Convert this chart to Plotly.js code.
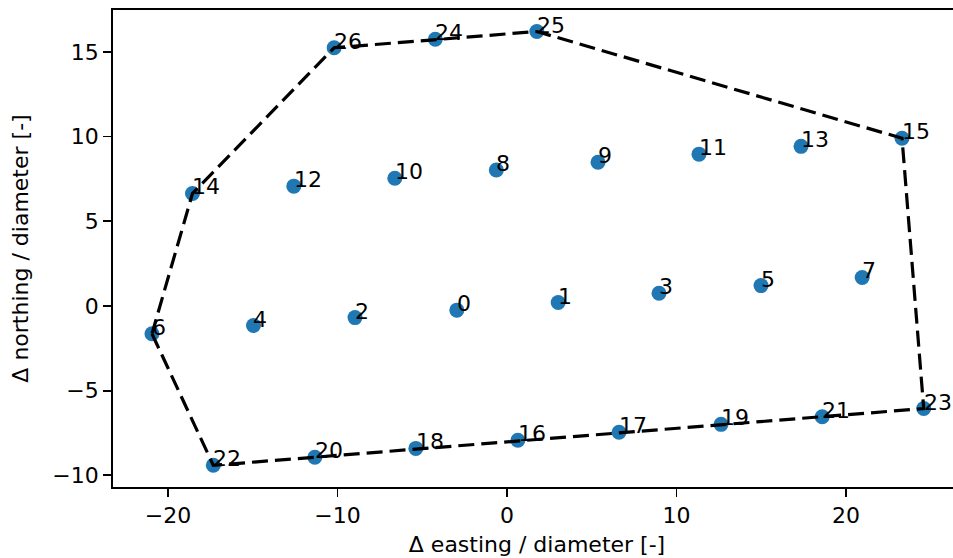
<!DOCTYPE html>
<html>
<head>
<meta charset="utf-8">
<script src="https://cdn.plot.ly/plotly-3.0.1.min.js"></script>
<style>
  html, body { margin: 0; padding: 0; overflow: hidden; background: #fff; }
  #chart { width: 962px; height: 558px; }
</style>
</head>
<body>
<div id="chart"></div>
<script>
// Turbine positions relative to the layout centre, in rotor diameters.
const turbineIds = [0, 1, 2, 3, 4, 5, 6, 7, 8, 9, 10, 11, 12, 13, 14, 15, 16, 17, 18, 19, 20, 21, 22, 23, 24, 25, 26];
const easting = [-2.96, 3.02, -8.97, 8.97, -14.96, 14.99, -20.95, 20.96, -0.63, 5.37, -6.62, 11.33, -12.58, 17.35, -18.56, 23.31,
                 0.64, 6.61, -5.38, 12.63, -11.34, 18.60, -17.33, 24.59, -4.23, 1.76, -10.20];
const northing = [-0.25, 0.20, -0.69, 0.75, -1.16, 1.20, -1.64, 1.68, 8.02, 8.48, 7.54, 8.96, 7.07, 9.42, 6.64, 9.90,
                  -7.93, -7.46, -8.41, -6.99, -8.93, -6.54, -9.41, -6.06, 15.74, 16.20, 15.24];
// Convex hull of the farm boundary, as turbine indices (closed loop).
const hullIds = [6, 22, 23, 15, 25, 24, 26, 14, 6];

const FONT = 'DejaVu Sans, sans-serif';

const points = {
  type: 'scatter',
  mode: 'markers',
  x: easting,
  y: northing,
  marker: { color: '#1f77b4', size: 15, line: { width: 0 } },
  hoverinfo: 'skip',
  showlegend: false
};

const hull = {
  type: 'scatter',
  mode: 'lines',
  x: hullIds.map(i => easting[i]),
  y: hullIds.map(i => northing[i]),
  line: { color: '#000000', width: 3.2, dash: '16px,7px' },
  hoverinfo: 'skip',
  showlegend: false
};

const labels = turbineIds.map((id, i) => ({
  x: easting[i],
  y: northing[i],
  text: String(id),
  showarrow: false,
  xanchor: 'left',
  yanchor: 'bottom',
  xshift: -2,
  yshift: -8,
  font: { family: FONT, size: 22, color: '#000000' }
}));

const axisCommon = {
  showgrid: false,
  zeroline: false,
  showline: true,
  mirror: true,
  linecolor: '#000000',
  linewidth: 1.8,
  ticks: 'outside',
  ticklen: 8,
  tickwidth: 1.8,
  tickcolor: '#000000',
  tickfont: { family: FONT, size: 22, color: '#000000' },
  automargin: false
};

const layout = {
  width: 962,
  height: 558,
  margin: { l: 113.3, r: 1, t: 10, b: 71.3, pad: 0 },
  paper_bgcolor: '#ffffff',
  plot_bgcolor: '#ffffff',
  font: { family: FONT, size: 22, color: '#000000' },
  xaxis: Object.assign({}, axisCommon, {
    range: [-23.25, 26.79],
    tickvals: [-20, -10, 0, 10, 20],
    title: { text: 'Δ easting / diameter [-]', font: { family: FONT, size: 22, color: '#000000' }, standoff: 9 }
  }),
  yaxis: Object.assign({}, axisCommon, {
    range: [-10.69, 17.47],
    tickvals: [-10, -5, 0, 5, 10, 15],
    title: { text: 'Δ northing / diameter [-]', font: { family: FONT, size: 22, color: '#000000' }, standoff: 18 }
  }),
  annotations: labels
};

Plotly.newPlot('chart', [points, hull], layout, { staticPlot: true, displayModeBar: false });
</script>
</body>
</html>
